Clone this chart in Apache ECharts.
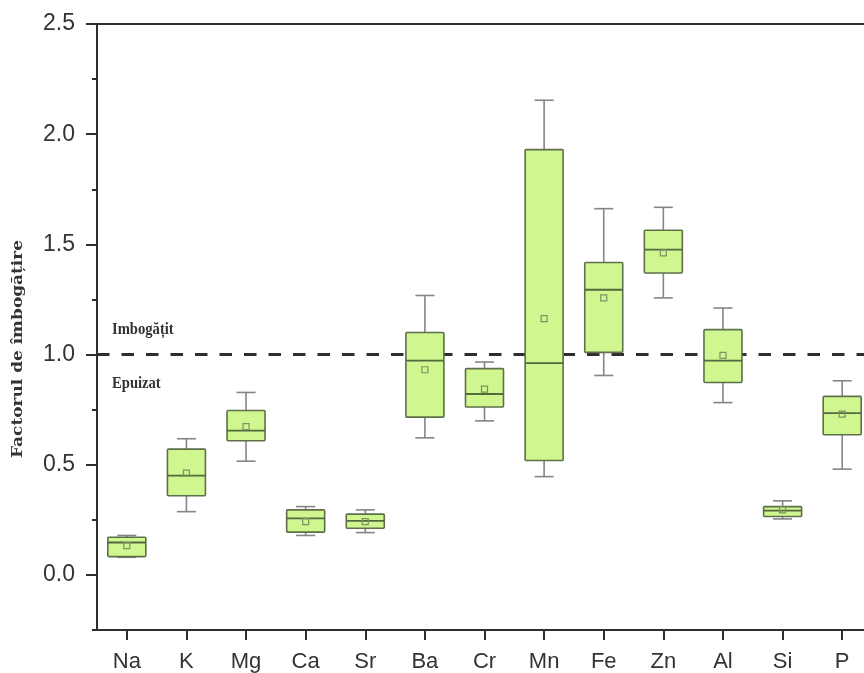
<!DOCTYPE html>
<html>
<head>
<meta charset="utf-8">
<script src="https://cdn.jsdelivr.net/npm/echarts@6/dist/echarts.min.js"></script>
<style>
html,body{margin:0;padding:0;background:#fff;}
#chart{width:864px;height:673px;}
</style>
</head>
<body>
<div id="chart"></div>
<script>
const categories = ['Na','K','Mg','Ca','Sr','Ba','Cr','Mn','Fe','Zn','Al','Si','P'];
const whiskerLow  = [0.080, 0.287, 0.516, 0.179, 0.192, 0.622, 0.699, 0.446, 0.905, 1.257, 0.782, 0.254, 0.480];
const q1          = [0.083, 0.359, 0.609, 0.194, 0.212, 0.716, 0.762, 0.519, 1.010, 1.370, 0.873, 0.265, 0.636];
const median      = [0.147, 0.451, 0.655, 0.257, 0.245, 0.972, 0.821, 0.961, 1.294, 1.476, 0.972, 0.292, 0.734];
const q3          = [0.171, 0.571, 0.746, 0.295, 0.276, 1.100, 0.936, 1.930, 1.418, 1.564, 1.113, 0.310, 0.810];
const whiskerHigh = [0.179, 0.618, 0.828, 0.310, 0.295, 1.268, 0.966, 2.154, 1.662, 1.668, 1.211, 0.336, 0.881];
const mean        = [0.133, 0.462, 0.673, 0.242, 0.242, 0.931, 0.843, 1.163, 1.257, 1.461, 0.996, 0.295, 0.730];
const majorTicks = [0, 0.5, 1.0, 1.5, 2.0, 2.5];
const minorTicks = [-0.25, 0.25, 0.75, 1.25, 1.75, 2.25];
const referenceLevel = 1.0;

const boxData = categories.map((c, i) => [i, whiskerLow[i], q1[i], median[i], q3[i], whiskerHigh[i], mean[i]]);

const chart = echarts.init(document.getElementById('chart'), null, {renderer: 'canvas'});

const fill = '#cff68f';
const boxBorder = '#5e6f4a';
const whiskerColor = '#858585';
const medianColor = '#55693f';
const meanColor = '#7c9264';

function renderBox(params, api) {
  const x = api.value(0);
  const pLow = api.coord([x, api.value(1)]);
  const pQ1 = api.coord([x, api.value(2)]);
  const pMed = api.coord([x, api.value(3)]);
  const pQ3 = api.coord([x, api.value(4)]);
  const pHigh = api.coord([x, api.value(5)]);
  const pMean = api.coord([x, api.value(6)]);
  const cx = pQ1[0];
  const bw = 38, cw = 19, ms = 6;
  const wStyle = {stroke: whiskerColor, lineWidth: 1.6, fill: null};
  return {
    type: 'group',
    children: [
      {type: 'line', shape: {x1: cx, y1: pLow[1], x2: cx, y2: pQ1[1]}, style: wStyle},
      {type: 'line', shape: {x1: cx, y1: pQ3[1], x2: cx, y2: pHigh[1]}, style: wStyle},
      {type: 'line', shape: {x1: cx - cw/2, y1: pLow[1], x2: cx + cw/2, y2: pLow[1]}, style: wStyle},
      {type: 'line', shape: {x1: cx - cw/2, y1: pHigh[1], x2: cx + cw/2, y2: pHigh[1]}, style: wStyle},
      {type: 'rect', shape: {x: cx - bw/2, y: pQ3[1], width: bw, height: pQ1[1] - pQ3[1], r: 1},
        style: {fill: fill, stroke: boxBorder, lineWidth: 1.6}},
      {type: 'line', shape: {x1: cx - bw/2, y1: pMed[1], x2: cx + bw/2, y2: pMed[1]},
        style: {stroke: medianColor, lineWidth: 1.8}},
      {type: 'rect', shape: {x: cx - ms/2, y: pMean[1] - ms/2, width: ms, height: ms},
        style: {fill: null, stroke: meanColor, lineWidth: 1.2}}
    ]
  };
}

const option = {
  animation: false,
  backgroundColor: '#ffffff',
  grid: {
    left: 97, top: 24, bottom: 43, right: -8,
    show: true, borderColor: '#2e2e2e', borderWidth: 2,
    containLabel: false, outerBoundsMode: 'none'
  },
  xAxis: {
    type: 'category',
    data: categories,
    boundaryGap: true,
    axisLine: {show: true, onZero: false, lineStyle: {color: '#2e2e2e', width: 2}},
    axisTick: {show: true, alignWithLabel: true, length: 10, lineStyle: {color: '#2e2e2e', width: 2}},
    axisLabel: {fontSize: 22, color: '#333', margin: 21, fontFamily: 'Liberation Sans, Arial, sans-serif', interval: 0},
    splitLine: {show: false}
  },
  yAxis: [
    {
      type: 'value', min: -0.25, max: 2.5, position: 'left',
      axisLine: {show: true, lineStyle: {color: '#2e2e2e', width: 2}},
      axisTick: {show: true, customValues: majorTicks, length: 11, lineStyle: {color: '#2e2e2e', width: 2}},
      axisLabel: {customValues: majorTicks, fontSize: 23, color: '#333', margin: 22,
        fontFamily: 'Liberation Sans, Arial, sans-serif', formatter: v => v.toFixed(1)},
      splitLine: {show: false}
    },
    {
      type: 'value', min: -0.25, max: 2.5, position: 'left', offset: 0,
      axisLine: {show: false},
      axisTick: {show: true, customValues: minorTicks, length: 5, lineStyle: {color: '#2e2e2e', width: 2}},
      axisLabel: {show: false},
      splitLine: {show: false}
    }
  ],
  graphic: [
    {type: 'text', x: 18, y: 349, rotation: Math.PI / 2, scaleX: 1.13,
      style: {text: 'Factorul de îmbogățire', fontFamily: 'DejaVu Serif, serif', fontWeight: 'bold',
        fontSize: 15, fill: '#333', align: 'center', verticalAlign: 'middle'}},
    {type: 'text', x: 112, y: 330, scaleX: 0.86,
      style: {text: 'Imbogățit', fontFamily: 'Liberation Serif, serif', fontWeight: 'bold',
        fontSize: 17, fill: '#333', align: 'left', verticalAlign: 'middle'}},
    {type: 'text', x: 112, y: 384, scaleX: 0.86,
      style: {text: 'Epuizat', fontFamily: 'Liberation Serif, serif', fontWeight: 'bold',
        fontSize: 17, fill: '#333', align: 'left', verticalAlign: 'middle'}}
  ],
  series: [
    {
      type: 'line', data: [], z: 1, zlevel: 0, silent: true,
      markLine: {
        silent: true, z: 1, zlevel: 0, symbol: ['none', 'none'], label: {show: false},
        lineStyle: {type: [12.5, 12], color: '#2e2e2e', width: 3},
        data: [{yAxis: referenceLevel}]
      }
    },
    {
      type: 'custom', z: 10, zlevel: 1,
      renderItem: renderBox,
      encode: {x: 0, y: [1, 2, 3, 4, 5, 6]},
      data: boxData
    }
  ]
};
chart.setOption(option);
</script>
</body>
</html>
